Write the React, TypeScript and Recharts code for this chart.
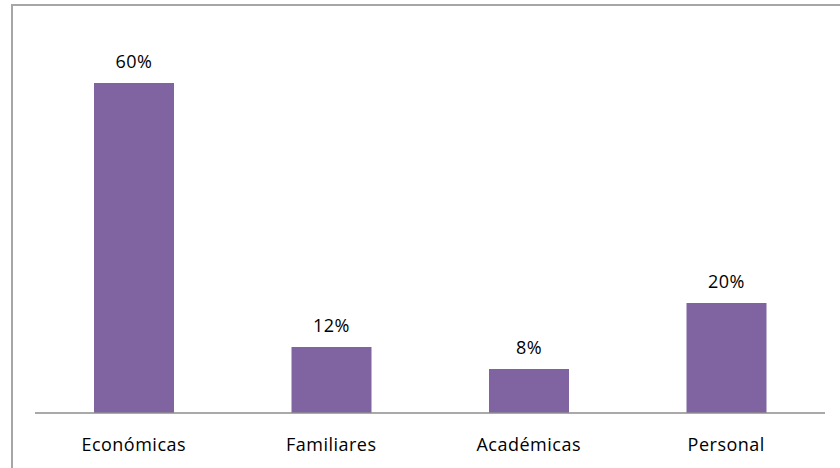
import React from "react";
import { BarChart, Bar, XAxis, YAxis, LabelList } from "recharts";

const categories = ["Económicas", "Familiares", "Académicas", "Personal"];
const values = [60, 12, 8, 20];

const data = categories.map((name, i) => ({ name, value: values[i] }));

const textStyle = { fill: "#000", fontSize: 18, fontFamily: "Open Sans", letterSpacing: 0.5 };

export default function App() {
  return (
    <div style={{ position: "absolute", left: 0, top: 0, width: 840, height: 468, overflow: "hidden", background: "#fff" }}>
      <div
        style={{
          position: "absolute",
          left: 11,
          top: 4,
          width: 900,
          height: 600,
          border: "2px solid #a6a6a6",
          boxSizing: "border-box",
        }}
      />
      <div style={{ position: "absolute", left: 0, top: 0 }}>
        <BarChart
          width={840}
          height={468}
          data={data}
          margin={{ top: 28, right: 15, bottom: 25, left: 35 }}
        >
          <YAxis hide domain={[0, 70]} />
          <XAxis
            dataKey="name"
            height={30}
            tickLine={false}
            tickSize={0}
            tickMargin={25}
            axisLine={{ stroke: "#8c8c8c", strokeWidth: 1.5 }}
            tick={textStyle}
            interval={0}
          />
          <Bar dataKey="value" fill="#8064A2" barSize={80} isAnimationActive={false}>
            <LabelList
              dataKey="value"
              position="top"
              offset={15}
              formatter={(v: number) => `${v}%`}
              style={textStyle}
            />
          </Bar>
        </BarChart>
      </div>
    </div>
  );
}
